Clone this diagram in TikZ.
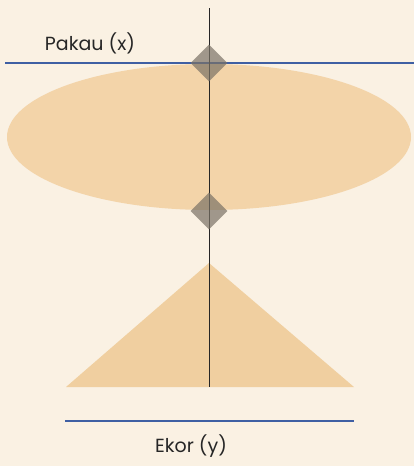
\documentclass[tikz,border=0pt]{standalone}
\usepackage{fontspec}
\setmainfont{Poppins}
\usepackage{tikz}
\usetikzlibrary{shapes.geometric,positioning}
\definecolor{creambg}{HTML}{FAF1E3}
\definecolor{tanfill}{HTML}{F3D4A9}
\definecolor{tanshape}{HTML}{F0CFA0}
\definecolor{axisblue}{HTML}{3F5FA3}
\definecolor{jointgrey}{HTML}{7A7266}
\tikzset{
  bodyshape/.style={draw=none, fill=#1},
  bodyshape/.default=tanfill,
  axisline/.style={draw=axisblue, line width=1.2pt},
  spine/.style={draw=black!85, line width=1pt},
  joint/.style={diamond, draw=none, fill=jointgrey, fill opacity=0.7,
    minimum width=37pt, minimum height=37pt, inner sep=0pt},
  axislabel/.style={font=\fontsize{19}{22}\selectfont, text=black!85}
}
\begin{document}
\begin{tikzpicture}[x=1pt,y=-1pt]
\fill[creambg] (0,0) rectangle (414,466);
\useasboundingbox (0,0) rectangle (414,466);

% wing and tail shapes
\fill[bodyshape] (209,137) ellipse [x radius=202, y radius=73];
\fill[bodyshape=tanshape] (209,263) -- (354,387) -- (66,387) -- cycle;

% axes
\coordinate (wingL) at (5,63);
\coordinate (wingR) at (414,63);
\coordinate (tailL) at (65,421);
\coordinate (tailR) at (354,421);
\coordinate (top) at (209,8);
\coordinate (bottom) at (209,387);
\draw[axisline] (wingL) -- (wingR);
\draw[axisline] (tailL) -- (tailR);
\draw[spine] (top) -- (bottom);

% joints
\node[joint] (jointA) at (209,63) {};
\node[joint] (jointB) at (209,211) {};

\node[axislabel] (pakau) at (90,43) {Pakau (x)};
\node[axislabel] (ekor) at (191,446) {Ekor (y)};
\end{tikzpicture}
\end{document}
